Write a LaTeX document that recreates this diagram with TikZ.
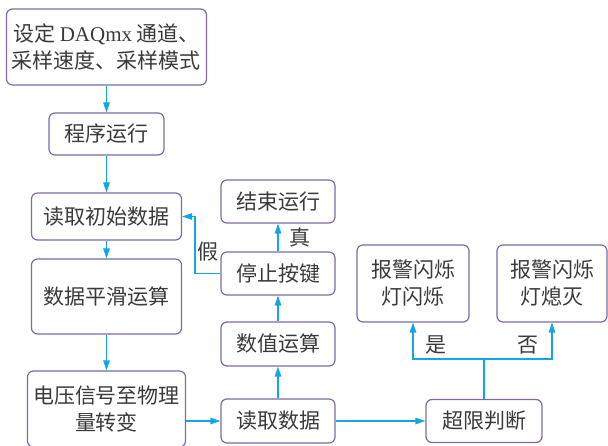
\documentclass[tikz,border=0pt]{standalone}
\usepackage{fontspec}
\setmainfont{Noto Sans CJK SC}
\newfontfamily\latf{Liberation Serif}
\usetikzlibrary{arrows.meta}
\definecolor{boxc}{HTML}{7E6AA8}
\definecolor{arrc}{HTML}{12A6E4}
\definecolor{txtc}{HTML}{3A3A3A}
\tikzset{
  box/.style={draw=boxc, line width=1.2pt, rounded corners=6pt, inner sep=0pt,
    align=center, text=txtc, font=\fontsize{21}{27}\selectfont},
  arr/.style={draw=arrc, line width=1.2pt, -{Triangle[length=10pt,width=6.5pt]}},
  ln/.style={draw=arrc, line width=1.2pt},
  lab/.style={text=txtc, font=\fontsize{21}{27}\selectfont, inner sep=0pt}
}
\begin{document}
\begin{tikzpicture}[x=1pt,y=-1pt]
\useasboundingbox (0,0) rectangle (608,446);
% left column
\node[box, minimum width=200pt, minimum height=76pt] (b1) at (106.5,47) {设定 {\latf DAQmx} 通道、\\采样速度、采样模式};
\node[box, minimum width=115pt, minimum height=42pt] (b2) at (106.5,134) {程序运行};
\node[box, minimum width=150pt, minimum height=47pt] (b3) at (106.5,216.5) {读取初始数据};
\node[box, minimum width=150pt, minimum height=75pt] (b4) at (106.5,296.5) {数据平滑运算};
\node[box, minimum width=158pt, minimum height=76pt] (b5) at (106.5,409) {电压信号至物理\\量转变};
% middle column
\node[box, minimum width=114pt, minimum height=43pt] (e1) at (278,201.5) {结束运行};
\node[box, minimum width=114pt, minimum height=43pt] (s) at (278,273.5) {停止按键};
\node[box, minimum width=114pt, minimum height=44pt] (v) at (278,344) {数值运算};
\node[box, minimum width=114pt, minimum height=44pt] (r) at (278,421) {读取数据};
% right
\node[box, minimum width=116pt, minimum height=43pt] (c) at (484,421) {超限判断};
\node[box, minimum width=112pt, minimum height=77pt] (a1) at (413,283.5) {报警闪烁\\灯闪烁};
\node[box, minimum width=110pt, minimum height=77pt] (a2) at (552,283.5) {报警闪烁\\灯熄灭};
% labels
\node[lab] (l1) at (208,252) {假};
\node[lab] (l2) at (300,238) {真};
\node[lab] (l3) at (436,345) {是};
\node[lab] (l4) at (528,345) {否};
% helper coordinates
\coordinate (k) at (195,0);
\coordinate (j) at (0,359);
% connectors
\draw[arr] (b1) -- (b2);
\draw[arr] (b2) -- (b3);
\draw[arr] (b3) -- (b4);
\draw[arr] (b4) -- (b5);
\draw[arr] (r.west -| b5.east) -- (r.west);
\draw[arr] (r) -- (c);
\draw[arr] (r) -- (v);
\draw[arr] (v) -- (s);
\draw[arr] (s) -- (e1);
\draw[arr] (s.west) -- (s.west -| k) |- (b3.east);
\draw[ln] (c.north) -- (c.north |- j);
\draw[arr] (c.north |- j) -| (a1.south);
\draw[arr] (c.north |- j) -| (a2.south);
\end{tikzpicture}
\end{document}
